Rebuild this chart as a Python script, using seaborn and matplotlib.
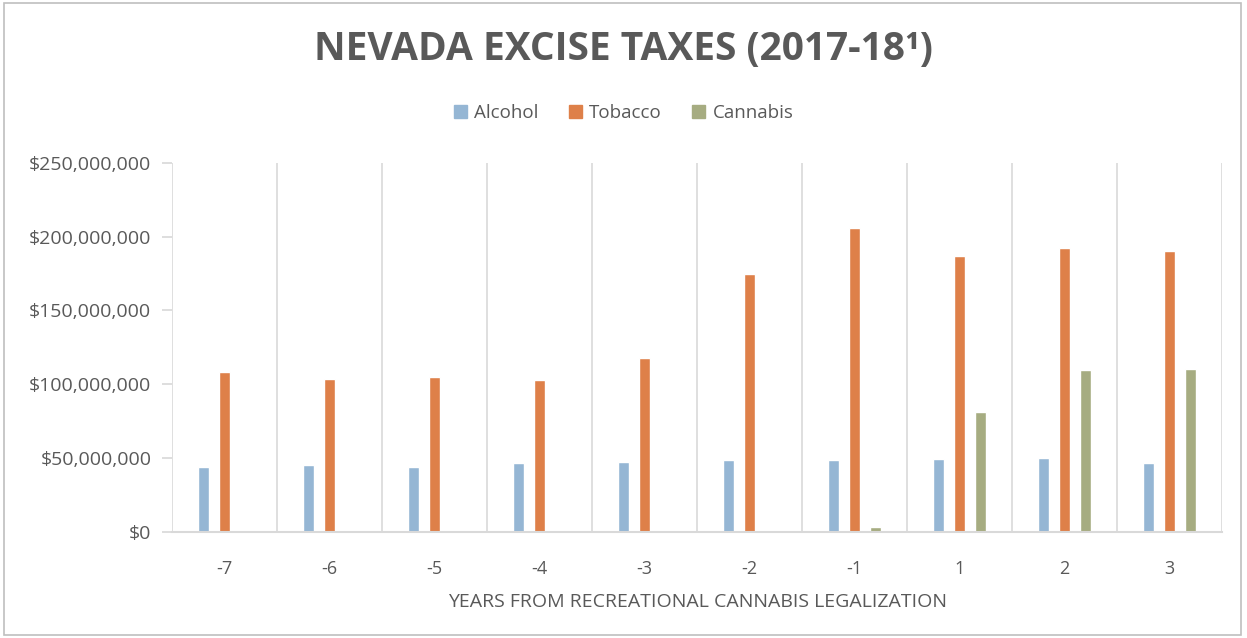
import pandas as pd
import matplotlib.pyplot as plt
import matplotlib.ticker as mticker
import seaborn as sns

# values (US dollars)
years = ["-7", "-6", "-5", "-4", "-3", "-2", "-1", "1", "2", "3"]
alcohol = [44.0e6, 45.1e6, 44.3e6, 46.5e6, 47.4e6, 48.7e6, 48.7e6, 49.2e6, 49.9e6, 47.0e6]
tobacco = [108.3e6, 103.3e6, 105.2e6, 102.7e6, 117.6e6, 174.9e6, 206.0e6, 186.6e6, 192.5e6, 190.0e6]
cannabis = [0, 0, 0, 0, 0, 1.0e6, 3.6e6, 81.0e6, 109.4e6, 110.3e6]
series = ["Alcohol", "Tobacco", "Cannabis"]
colors = ["#95B6D4", "#DE8049", "#A6AC81"]

df = pd.DataFrame({
    "year": years * 3,
    "tax": alcohol + tobacco + cannabis,
    "type": sum([[s] * len(years) for s in series], []),
})

sns.set_theme(style="white")
plt.rcParams["font.family"] = ["Open Sans", "DejaVu Sans"]
text_col = "#595959"
grid_col = "#D9D9D9"

fig = plt.figure(figsize=(12.47, 6.38), dpi=100)
ax = fig.add_axes([0.138, 0.166, 0.842, 0.579])

sns.barplot(data=df, x="year", y="tax", hue="type", order=years, hue_order=series,
            palette=colors, saturation=1, width=0.6, gap=0.475, ax=ax, legend=False)

ax.set_ylim(0, 250e6)
ax.set_xlim(-0.5, len(years) - 0.5)
ax.yaxis.set_major_locator(mticker.MultipleLocator(50e6))
ax.yaxis.set_major_formatter(mticker.FuncFormatter(lambda v, p: "${:,.0f}".format(v)))

# vertical lines between categories
ax.set_xticks([i + 0.5 for i in range(-1, len(years))], minor=True)
ax.grid(True, which="minor", axis="x", color=grid_col, linewidth=1.2)
ax.grid(False, which="major")

for s in ["top", "right", "left"]:
    ax.spines[s].set_visible(False)
ax.spines["bottom"].set_color(grid_col)
ax.spines["bottom"].set_linewidth(1.5)

ax.tick_params(axis="y", which="major", left=True, length=7, color=grid_col,
               labelsize=14, labelcolor=text_col, pad=8)
ax.tick_params(axis="x", which="major", bottom=False, labelsize=13, labelcolor=text_col, pad=14)
ax.tick_params(axis="x", which="minor", bottom=False)

ax.set_xlabel("YEARS FROM RECREATIONAL CANNABIS LEGALIZATION", fontsize=14,
              color=text_col, labelpad=11)
ax.set_ylabel("")

fig.text(0.5, 0.922, "NEVADA EXCISE TAXES (2017-18¹)", ha="center", va="center",
         fontsize=28, fontweight="bold", color=text_col)

handles = [plt.Rectangle((0, 0), 1, 1, color=c) for c in colors]
fig.legend(handles, series, loc="center", bbox_to_anchor=(0.5, 0.823), ncol=3,
           frameon=False, fontsize=13.5, handlelength=0.7, handleheight=0.7,
           handletextpad=0.4, columnspacing=1.6, labelcolor=text_col)

fig.patches.append(plt.Rectangle((0.003, 0.005), 0.992, 0.99, transform=fig.transFigure,
                                 fill=False, edgecolor="#BFBFBF", linewidth=1.2))

fig.savefig("out.png", dpi=100)
